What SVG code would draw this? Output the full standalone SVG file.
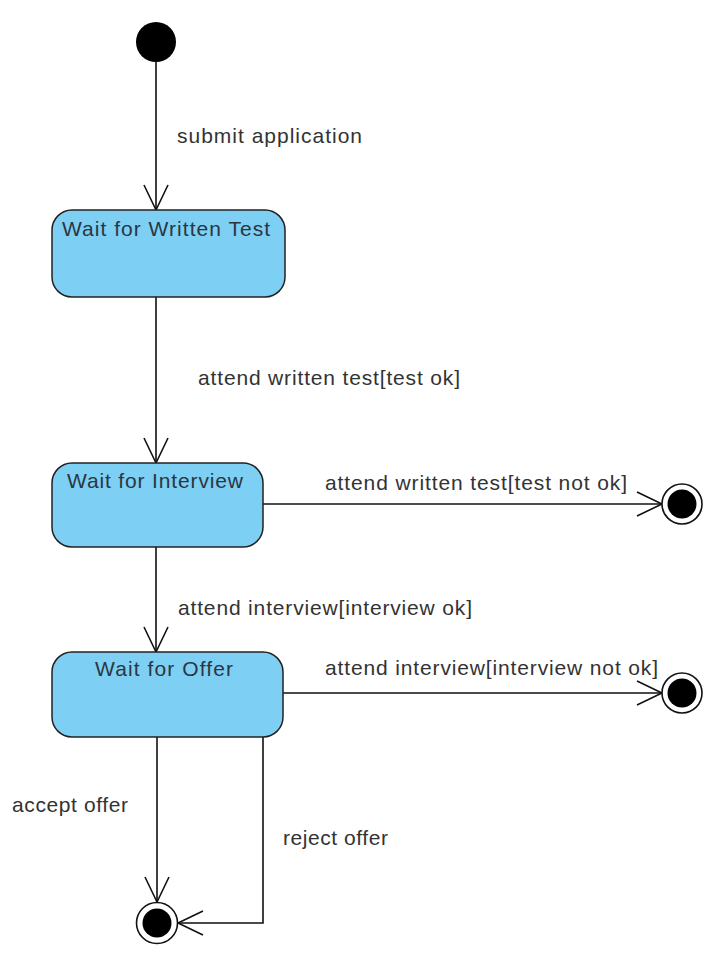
<svg xmlns="http://www.w3.org/2000/svg" width="728" height="958" viewBox="0 0 728 958">
<style>
.state{fill:#7dcff4;stroke:#222;stroke-width:1.5}
.name{font-family:"Liberation Sans",Arial,sans-serif;font-size:21px;fill:#2b3640}
.lbl{font-family:"Liberation Sans",Arial,sans-serif;font-size:21px;fill:#333}
.edge{fill:none;stroke:#111;stroke-width:1.6}
.ring{fill:#fff;stroke:#111;stroke-width:1.6}
</style>
<defs>
<marker id="open" viewBox="0 0 30 30" refX="26" refY="15" markerWidth="30" markerHeight="30" markerUnits="userSpaceOnUse" orient="auto">
<path d="M1,3 L26,15 L1,27" fill="none" stroke="#111" stroke-width="1.6"/>
</marker>
</defs>
<g id="connectors">
<path class="edge" d="M156,62 L156,210" marker-end="url(#open)"/>
<path class="edge" d="M156,297 L156,463" marker-end="url(#open)"/>
<path class="edge" d="M156,547 L156,652" marker-end="url(#open)"/>
<path class="edge" d="M263,504 L662,504" marker-end="url(#open)"/>
<path class="edge" d="M283,693 L662,693" marker-end="url(#open)"/>
<path class="edge" d="M157,737 L157,902" marker-end="url(#open)"/>
<path class="edge" d="M263,737 L263,923 L178,923" marker-end="url(#open)"/>
<text class="lbl" x="177" y="143" textLength="185" lengthAdjust="spacing">submit application</text>
<text class="lbl" x="198" y="385" textLength="262" lengthAdjust="spacing">attend written test[test ok]</text>
<text class="lbl" x="325" y="490" textLength="302" lengthAdjust="spacing">attend written test[test not ok]</text>
<text class="lbl" x="178" y="615" textLength="294" lengthAdjust="spacing">attend interview[interview ok]</text>
<text class="lbl" x="325" y="675" textLength="333" lengthAdjust="spacing">attend interview[interview not ok]</text>
<text class="lbl" x="12" y="812" textLength="116" lengthAdjust="spacing">accept offer</text>
<text class="lbl" x="283" y="845" textLength="105" lengthAdjust="spacing">reject offer</text>
</g>
<g id="initial">
<circle cx="156" cy="42" r="20" fill="#000"/>
</g>
<g id="waitWrittenTest">
<rect class="state" x="52" y="210" width="233" height="87" rx="20" ry="20"/>
<text class="name" x="62" y="236" textLength="208" lengthAdjust="spacing">Wait for Written Test</text>
</g>
<g id="waitInterview">
<rect class="state" x="52" y="463" width="211" height="84" rx="20" ry="20"/>
<text class="name" x="67" y="488" textLength="176" lengthAdjust="spacing">Wait for Interview</text>
</g>
<g id="waitOffer">
<rect class="state" x="52" y="652" width="231" height="85" rx="20" ry="20"/>
<text class="name" x="95" y="676" textLength="138" lengthAdjust="spacing">Wait for Offer</text>
</g>
<g id="final1">
<circle class="ring" cx="682" cy="504" r="20"/>
<circle cx="682" cy="504" r="14.5" fill="#000"/>
</g>
<g id="final2">
<circle class="ring" cx="682" cy="693" r="20"/>
<circle cx="682" cy="693" r="14.5" fill="#000"/>
</g>
<g id="final3">
<circle class="ring" cx="157" cy="923" r="20.5"/>
<circle cx="157" cy="923" r="14.5" fill="#000"/>
</g>
</svg>
